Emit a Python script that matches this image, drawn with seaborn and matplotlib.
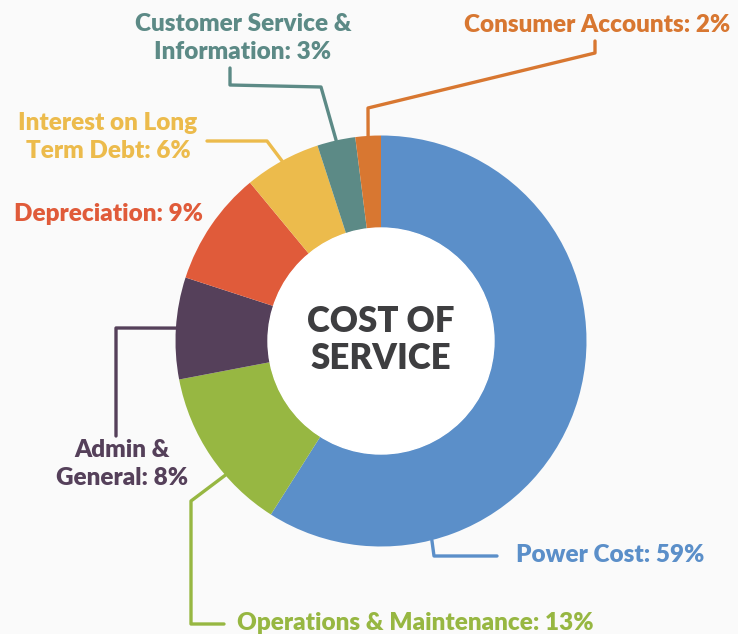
import numpy as np
import matplotlib
matplotlib.use("Agg")
import matplotlib.pyplot as plt
import seaborn as sns

# data
categories = ["Power Cost", "Operations & Maintenance", "Admin & General", "Depreciation",
              "Interest on Long Term Debt", "Customer Service & Information", "Consumer Accounts"]
shares = [59, 13, 8, 9, 6, 3, 2]
label_names = ["Power Cost", "Operations & Maintenance", "Admin &\nGeneral", "Depreciation",
               "Interest on Long\nTerm Debt", "Customer Service &\nInformation", "Consumer Accounts"]
colors = ["#5b8fc9", "#97b742", "#55405a", "#e05b3a", "#ecbb4c", "#5c8a86", "#d87731"]
center_title = "COST OF\nSERVICE"

W, H = 738, 634
CX, CY, R, R_IN = 381, 341, 205.5, 113


def P(x, y):
    # pixel position (top-left origin) -> axes data
    return x, H - y


sns.set_theme(style="white")
plt.rcParams['font.family'] = ['Lato', 'DejaVu Sans']

fig = plt.figure(figsize=(W / 100, H / 100), dpi=100, facecolor="#fafafa")
ax = fig.add_axes([0, 0, 1, 1])
ax.set_facecolor("#fafafa")

wedges, _ = ax.pie(shares, colors=colors, startangle=90, counterclock=False,
                   center=P(CX, CY), radius=R, frame=True,
                   wedgeprops=dict(width=R - R_IN, linewidth=0))
ax.add_patch(plt.Circle(P(CX, CY), R_IN, color="white", zorder=3))

# label layout: where along the wedge the leader starts, the elbow points, text spot
layout = [
    dict(frac=0.78, path=[(434, 556), (497, 556)], text=(516, 555), ha="left"),
    dict(frac=0.36, path=[(191, 501), (191, 624), (224, 624)], text=(237, 623), ha="left"),
    dict(frac=0.5, path=[(116, 328), (116, 436)], text=(122, 464), ha="center"),
    dict(frac=None, path=[], text=(14, 214), ha="left"),
    dict(frac=0.5, path=[(267, 141), (207, 141)], text=(108, 137), ha="center"),
    dict(frac=0.5, path=[(321, 87), (230, 85), (230, 68)], text=(243, 38), ha="center"),
    dict(frac=0.5, path=[(368, 108), (595, 53), (595, 41)], text=(597, 25), ha="center"),
]

for w, name, val, col, lay in zip(wedges, label_names, shares, colors, layout):
    if lay["frac"] is not None:
        a = np.deg2rad(w.theta2 - lay["frac"] * (w.theta2 - w.theta1))
        sx, sy = CX + R * np.cos(a), H - (CY - R * np.sin(a))
        pts = [(sx, sy)] + [P(*p) for p in lay["path"]]
        xs, ys = zip(*pts)
        ax.plot(xs, ys, color=col, lw=2.4, solid_capstyle="round",
                solid_joinstyle="round", zorder=1)
    ax.text(*P(*lay["text"]), f"{name}: {val}%", color=col, fontsize=17.5,
            fontweight="heavy", ha=lay["ha"], va="center", multialignment="center",
            linespacing=1.32)

ax.text(*P(CX, 340), center_title, color="#3e3e40", fontsize=25, fontweight="heavy",
        ha="center", va="center", linespacing=1.15, zorder=4)

ax.set_xlim(0, W)
ax.set_ylim(0, H)
ax.axis("off")
fig.savefig("out.png", dpi=100, facecolor=fig.get_facecolor())
